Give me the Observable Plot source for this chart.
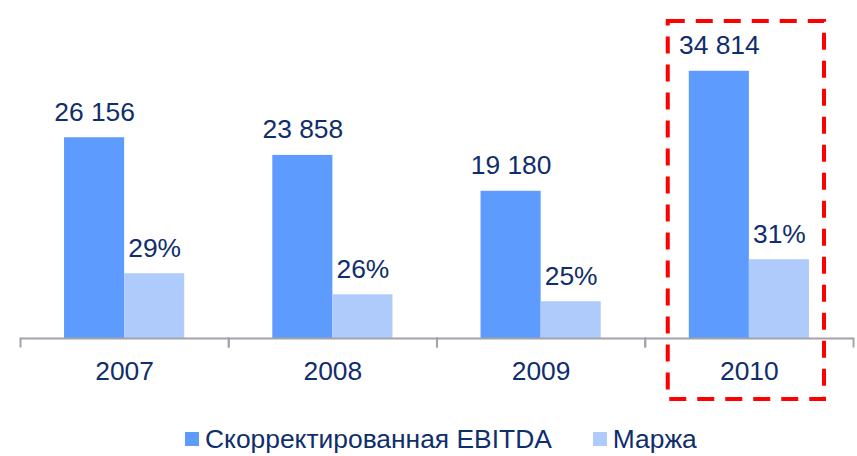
<!DOCTYPE html>
<html><head><meta charset="utf-8">
<script src="https://cdn.jsdelivr.net/npm/d3@7"></script>
<script src="https://cdn.jsdelivr.net/npm/@observablehq/plot@0.6"></script>
<style>
body{margin:0;background:#fff;font-family:"Liberation Sans",Arial,sans-serif;}
#legend{display:flex;align-items:center;height:30px;margin-top:14px;padding-left:185px;font-size:26.4px;color:#0f2e6c;line-height:30px;white-space:nowrap}
.item{display:flex;align-items:center}
.sw{display:inline-block;width:14px;height:14px;margin-right:6px}
</style></head><body>
<div id="chart"></div>
<div id="legend"></div>
<script>
// Data
const years = ["2007", "2008", "2009", "2010"];
const ebitda = [26156, 23858, 19180, 34814];
const marginPct = [29, 26, 25, 31];
const seriesNames = ["Скорректированная EBITDA", "Маржа"];
const highlightYear = "2010";
// secondary (margin) axis, mapped onto primary axis
const marginAxisDomain = [19.75, 63.61];
const primaryDomain = [0, 40000];

const darkBlue = "#5d9bff", lightBlue = "#aecbfc", textColor = "#0f2e6c", axisColor = "#a0a4aa";

const fmt = d3.formatLocale({decimal: ",", thousands: " ", grouping: [3], currency: ["", ""]}).format(",");
const toPrimary = d3.scaleLinear().domain(marginAxisDomain).range(primaryDomain);

const rows = [];
years.forEach((yr, i) => {
  rows.push({year: yr, series: seriesNames[0], value: ebitda[i], label: fmt(ebitda[i])});
  rows.push({year: yr, series: seriesNames[1], value: toPrimary(marginPct[i]), label: marginPct[i] + "%"});
});

const chart = Plot.plot({
  width: 857, height: 410,
  marginLeft: 20, marginRight: 4, marginTop: 31, marginBottom: 72,
  fx: {domain: years, padding: 0, round: false, label: null, axis: null},
  x: {domain: seriesNames, paddingInner: 0, paddingOuter: 0.733, round: false, axis: null},
  y: {domain: primaryDomain, axis: null},
  color: {domain: seriesNames, range: [darkBlue, lightBlue]},
  style: {fontFamily: '"Liberation Sans", Arial, sans-serif', color: textColor, background: "#fff"},
  marks: [
    Plot.barY(rows, {fx: "year", x: "series", y: "value", fill: "series"}),
    Plot.text(rows, {fx: "year", x: "series", y: "value", text: "label", lineAnchor: "bottom", dy: -17, fontSize: 26.4, fill: textColor}),
    Plot.ruleY([0], {stroke: axisColor, strokeWidth: 2}),
    Plot.frame({anchor: "left", insetTop: 307, insetBottom: -8, stroke: axisColor, strokeWidth: 2}),
    Plot.frame({anchor: "right", insetTop: 307, insetBottom: -8, stroke: axisColor, strokeWidth: 2}),
    Plot.axisFx({anchor: "bottom", tickSize: 0, tickPadding: 23, fontSize: 26.4, fill: textColor, label: null}),
    Plot.rect([highlightYear], {fx: d => d, insetLeft: 23, insetRight: 29, insetTop: -10, insetBottom: -61,
      fill: "none", stroke: "#ff0000", strokeWidth: 4, strokeDasharray: "17 11"})
  ]
});
document.getElementById("chart").appendChild(chart);

const legend = document.getElementById("legend");
[darkBlue, lightBlue].forEach((c, i) => {
  const it = document.createElement("span");
  it.className = "item";
  if (i > 0) it.style.marginLeft = "41px";
  it.innerHTML = `<span class="sw" style="background:${c}"></span><span>${seriesNames[i]}</span>`;
  legend.appendChild(it);
});
</script>
</body></html>
